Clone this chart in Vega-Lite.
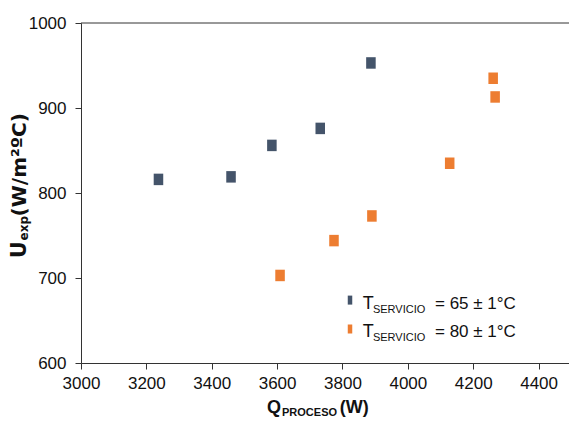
{
  "$schema": "https://vega.github.io/schema/vega-lite/v6.json",
  "width": 488,
  "height": 340,
  "autosize": {"type": "none"},
  "padding": {"left": 81, "top": 23, "right": 0, "bottom": 58},
  "background": "white",
  "config": {
    "view": {"stroke": null},
    "axis": {
      "grid": false,
      "title": null,
      "domainColor": "#333333",
      "tickColor": "#333333",
      "tickSize": 6,
      "labelFont": "Liberation Sans Narrow, Arial Narrow, Liberation Sans, sans-serif",
      "labelFontSize": 17,
      "labelColor": "#111111"
    }
  },
  "layer": [
    {
      "data": {"values": [{"edge": "top"}]},
      "mark": {"type": "rule", "color": "#333333", "strokeWidth": 1},
      "encoding": {"y": {"datum": 1000, "type": "quantitative"}}
    },
    {
      "data": {
        "values": [
          {"Q": 3237, "U": 816, "T": "65"},
          {"Q": 3459, "U": 819, "T": "65"},
          {"Q": 3584, "U": 856, "T": "65"},
          {"Q": 3732, "U": 876, "T": "65"},
          {"Q": 3887, "U": 953, "T": "65"},
          {"Q": 3609, "U": 703, "T": "80"},
          {"Q": 3774, "U": 744, "T": "80"},
          {"Q": 3890, "U": 773, "T": "80"},
          {"Q": 4128, "U": 835, "T": "80"},
          {"Q": 4261, "U": 935, "T": "80"},
          {"Q": 4267, "U": 913, "T": "80"}
        ]
      },
      "mark": {"type": "point", "filled": true, "opacity": 1, "shape": "M-0.83,-1H0.83V1H-0.83Z", "size": 132},
      "encoding": {
        "x": {
          "field": "Q", "type": "quantitative",
          "scale": {"domain": [3000, 4493], "nice": false, "zero": false},
          "axis": {"values": [3000, 3200, 3400, 3600, 3800, 4000, 4200, 4400], "format": "d", "labelPadding": 6, "labelFlush": false}
        },
        "y": {
          "field": "U", "type": "quantitative",
          "scale": {"domain": [600, 1000], "nice": false, "zero": false},
          "axis": {"values": [600, 700, 800, 900, 1000], "format": "d", "labelPadding": 9, "labelFlush": false}
        },
        "color": {
          "field": "T", "type": "nominal",
          "scale": {"domain": ["65", "80"], "range": ["#44546A", "#ED7D31"]},
          "legend": null
        }
      }
    },
    {
      "data": {"values": [{"T": "65"}]},
      "mark": {"type": "point", "filled": true, "opacity": 1, "shape": "M-0.5,-1H0.5V1H-0.5Z", "size": 81},
      "encoding": {
        "x": {"datum": 3823, "type": "quantitative"},
        "y": {"datum": 674, "type": "quantitative"},
        "color": {"field": "T", "type": "nominal"}
      }
    },
    {
      "data": {"values": [{"T": "80"}]},
      "mark": {"type": "point", "filled": true, "opacity": 1, "shape": "M-0.5,-1H0.5V1H-0.5Z", "size": 81},
      "encoding": {
        "x": {"datum": 3823, "type": "quantitative"},
        "y": {"datum": 640, "type": "quantitative"},
        "color": {"field": "T", "type": "nominal"}
      }
    },
    {
      "data": {"values": [{"t": "T"}]},
      "mark": {"type": "text", "align": "left", "baseline": "alphabetic", "font": "Liberation Sans", "fontSize": 18, "color": "#111111"},
      "encoding": {"x": {"datum": 3862, "type": "quantitative"}, "y": {"datum": 663.2, "type": "quantitative"}, "text": {"field": "t"}}
    },
    {
      "data": {"values": [{"t": "T"}]},
      "mark": {"type": "text", "align": "left", "baseline": "alphabetic", "font": "Liberation Sans", "fontSize": 18, "color": "#111111"},
      "encoding": {"x": {"datum": 3862, "type": "quantitative"}, "y": {"datum": 630.2, "type": "quantitative"}, "text": {"field": "t"}}
    },
    {
      "data": {"values": [{"t": "SERVICIO"}]},
      "mark": {"type": "text", "align": "left", "baseline": "alphabetic", "font": "Liberation Sans", "fontSize": 11, "color": "#111111"},
      "encoding": {"x": {"datum": 3893, "type": "quantitative"}, "y": {"datum": 658.5, "type": "quantitative"}, "text": {"field": "t"}}
    },
    {
      "data": {"values": [{"t": "SERVICIO"}]},
      "mark": {"type": "text", "align": "left", "baseline": "alphabetic", "font": "Liberation Sans", "fontSize": 11, "color": "#111111"},
      "encoding": {"x": {"datum": 3893, "type": "quantitative"}, "y": {"datum": 625.5, "type": "quantitative"}, "text": {"field": "t"}}
    },
    {
      "data": {"values": [{"t": "= 65 ± 1°C"}]},
      "mark": {"type": "text", "align": "left", "baseline": "alphabetic", "font": "Liberation Sans", "fontSize": 17, "color": "#111111"},
      "encoding": {"x": {"datum": 4083, "type": "quantitative"}, "y": {"datum": 663.2, "type": "quantitative"}, "text": {"field": "t"}}
    },
    {
      "data": {"values": [{"t": "= 80 ± 1°C"}]},
      "mark": {"type": "text", "align": "left", "baseline": "alphabetic", "font": "Liberation Sans", "fontSize": 17, "color": "#111111"},
      "encoding": {"x": {"datum": 4083, "type": "quantitative"}, "y": {"datum": 630.2, "type": "quantitative"}, "text": {"field": "t"}}
    },
    {
      "data": {"values": [{"t": "Q"}]},
      "mark": {"type": "text", "align": "left", "baseline": "alphabetic", "font": "Liberation Sans", "fontSize": 18, "fontWeight": "bold", "color": "#111111"},
      "encoding": {"x": {"datum": 3569, "type": "quantitative"}, "y": {"datum": 541.2, "type": "quantitative"}, "text": {"field": "t"}}
    },
    {
      "data": {"values": [{"t": "PROCESO"}]},
      "mark": {"type": "text", "align": "left", "baseline": "alphabetic", "font": "Liberation Sans", "fontSize": 11, "fontWeight": "bold", "color": "#111111"},
      "encoding": {"x": {"datum": 3615, "type": "quantitative"}, "y": {"datum": 537.1, "type": "quantitative"}, "text": {"field": "t"}}
    },
    {
      "data": {"values": [{"t": "(W)"}]},
      "mark": {"type": "text", "align": "left", "baseline": "alphabetic", "font": "Liberation Sans", "fontSize": 18, "fontWeight": "bold", "color": "#111111"},
      "encoding": {"x": {"datum": 3792, "type": "quantitative"}, "y": {"datum": 541.2, "type": "quantitative"}, "text": {"field": "t"}}
    },
    {
      "data": {"values": [{"t": "U"}]},
      "mark": {"type": "text", "align": "left", "baseline": "alphabetic", "angle": 270, "font": "DejaVu Sans", "fontSize": 20.5, "fontWeight": "bold", "color": "#111111"},
      "encoding": {"x": {"datum": 2832.6, "type": "quantitative"}, "y": {"datum": 723.5, "type": "quantitative"}, "text": {"field": "t"}}
    },
    {
      "data": {"values": [{"t": "exp"}]},
      "mark": {"type": "text", "align": "left", "baseline": "alphabetic", "angle": 270, "font": "DejaVu Sans", "fontSize": 12, "fontWeight": "bold", "color": "#111111"},
      "encoding": {"x": {"datum": 2838, "type": "quantitative"}, "y": {"datum": 744.2, "type": "quantitative"}, "text": {"field": "t"}}
    },
    {
      "data": {"values": [{"t": "(W/m²ºC)"}]},
      "mark": {"type": "text", "align": "left", "baseline": "alphabetic", "angle": 270, "font": "DejaVu Sans", "fontSize": 20, "fontWeight": "bold", "color": "#111111"},
      "encoding": {"x": {"datum": 2832.6, "type": "quantitative"}, "y": {"datum": 772.5, "type": "quantitative"}, "text": {"field": "t"}}
    }
  ]
}
